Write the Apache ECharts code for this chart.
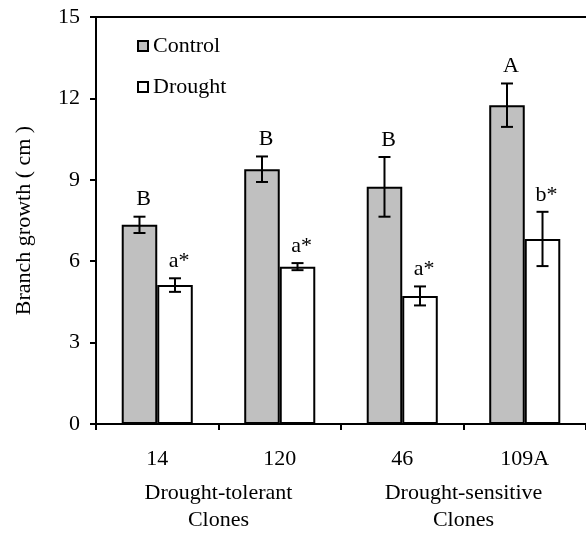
<!DOCTYPE html>
<html>
<head>
<meta charset="utf-8">
<script src="https://cdn.jsdelivr.net/npm/echarts@6/dist/echarts.min.js"></script>
<style>html,body{margin:0;padding:0;background:#fff}#c{width:586px;height:534px}</style>
</head>
<body>
<div id="c"></div>
<script>
var categories = ['14', '120', '46', '109A'];
var groups = ['Drought-tolerant\nClones', 'Drought-sensitive\nClones'];
var control = [7.34, 9.39, 8.74, 11.75];
var controlErr = [0.3, 0.47, 1.1, 0.8];
var drought = [5.12, 5.8, 4.72, 6.82];
var droughtErr = [0.25, 0.13, 0.35, 1.0];
var controlLabels = ['B', 'B', 'B', 'A'];
var droughtLabels = ['a*', 'a*', 'a*', 'b*'];
var yTicks = [0, 3, 6, 9, 12, 15];

var FONT = '"Liberation Serif", "Times New Roman", serif';
var chart = echarts.init(document.getElementById('c'));

function errRender(sign, labels) {
  return function (params, api) {
    var idx = api.value(0), v = api.value(1), e = api.value(2);
    var c = api.coord([idx, v]);
    var band = api.size([1, 0])[0];
    var x = c[0] + sign * band * 0.145;
    var top = api.coord([idx, v + e])[1];
    var bot = api.coord([idx, v - e])[1];
    var hw = 6;
    var ls = {stroke: '#000', lineWidth: 2};
    return {
      type: 'group',
      children: [
        {type: 'line', shape: {x1: x, y1: top, x2: x, y2: bot}, style: ls},
        {type: 'line', shape: {x1: x - hw, y1: top, x2: x + hw, y2: top}, style: ls},
        {type: 'line', shape: {x1: x - hw, y1: bot, x2: x + hw, y2: bot}, style: ls},
        {type: 'text', style: {text: labels[params.dataIndex], x: x + 4, y: top - 6,
          align: 'center', verticalAlign: 'bottom', fontSize: 22, fontFamily: FONT, fill: '#000'}}
      ]
    };
  };
}

chart.setOption({
  animation: false,
  textStyle: {fontFamily: FONT},
  grid: {left: 96, right: -3, top: 17, bottom: 108, containLabel: false},
  legend: {
    orient: 'vertical', left: 137, top: 35, padding: 0, itemWidth: 10, itemHeight: 10, itemGap: 19, itemTextGap: 7,
    textStyle: {fontSize: 22, fontFamily: FONT, color: '#000'},
    data: [{name: 'Control', icon: 'rect'}, {name: 'Drought', icon: 'rect'}]
  },
  xAxis: [{
    type: 'category', data: categories, boundaryGap: true,
    axisLine: {lineStyle: {color: '#000', width: 2}},
    axisTick: {show: true, length: 6, lineStyle: {color: '#000', width: 2}},
    axisLabel: {margin: 24, fontSize: 22, fontFamily: FONT, color: '#000'}
  }, {
    type: 'category', data: groups, position: 'bottom', gridIndex: 0,
    axisLine: {show: false}, axisTick: {show: false},
    axisLabel: {margin: 56, fontSize: 22, lineHeight: 27, fontFamily: FONT, color: '#000'}
  }, {
    type: 'category', data: categories, position: 'top', gridIndex: 0,
    axisLine: {show: true, lineStyle: {color: '#000', width: 2}}, axisTick: {show: false},
    axisLabel: {show: false}
  }],
  yAxis: {
    type: 'value', min: yTicks[0], max: yTicks[yTicks.length - 1], interval: 3,
    name: 'Branch growth ( cm )', nameLocation: 'middle', nameGap: 61,
    nameTextStyle: {fontSize: 22, fontFamily: FONT, color: '#000'},
    splitLine: {show: false},
    axisLine: {show: true, lineStyle: {color: '#000', width: 2}},
    axisTick: {show: true, length: 6, lineStyle: {color: '#000', width: 2}},
    axisLabel: {margin: 16, fontSize: 22, fontFamily: FONT, color: '#000'}
  },
  series: [
    {name: 'Control', type: 'bar', data: control, barWidth: '29%', barGap: '0%',
      itemStyle: {color: '#c0c0c0', borderColor: '#000', borderWidth: 2}},
    {name: 'Drought', type: 'bar', data: drought, barWidth: '29%', barGap: '0%',
      itemStyle: {color: '#ffffff', borderColor: '#000', borderWidth: 2}},
    {name: 'ctrlErr', type: 'custom', z: 10, renderItem: errRender(-1, controlLabels),
      data: control.map(function (v, i) { return [i, v, controlErr[i]]; })},
    {name: 'drErr', type: 'custom', z: 10, renderItem: errRender(1, droughtLabels),
      data: drought.map(function (v, i) { return [i, v, droughtErr[i]]; })}
  ]
});
</script>
</body>
</html>
